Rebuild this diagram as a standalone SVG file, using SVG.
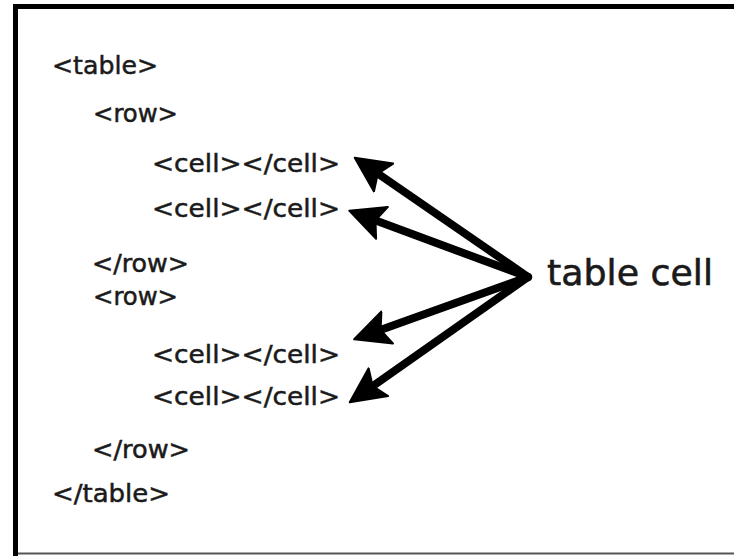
<svg xmlns="http://www.w3.org/2000/svg" width="734" height="556" viewBox="0 0 734 556">
  <style>
    .code { font-family: "DejaVu Sans", "Liberation Sans", sans-serif; font-size: 24px; fill: #1a1a1a; stroke: #1a1a1a; stroke-width: 0.5; }
    .label { font-family: "DejaVu Sans", "Liberation Sans", sans-serif; font-size: 35px; fill: #1a1a1a; stroke: #1a1a1a; stroke-width: 0.6; }
    .conn { stroke: #000; stroke-width: 8; fill: none; stroke-linecap: round; }
  </style>
  <defs>
    <marker id="head" markerUnits="userSpaceOnUse" markerWidth="38" markerHeight="38" viewBox="0 0 38 38" refX="12" refY="19" orient="auto">
      <path d="M1,2 L36,19 L1,36 L8,19 z" fill="#000" stroke="#000" stroke-width="2" stroke-linejoin="round"/>
    </marker>
  </defs>
  <rect x="0" y="0" width="734" height="556" fill="#fff"/>
  <g id="frame">
    <path d="M734,6.5 L15.5,6.5 L15.5,556" fill="none" stroke="#000" stroke-width="5"/>
    <line x1="18" y1="553.5" x2="734" y2="553.5" stroke="#555" stroke-width="2"/>
  </g>
  <g id="code">
    <text class="code" x="52" y="74" textLength="106" lengthAdjust="spacingAndGlyphs">&lt;table&gt;</text>
    <text class="code" x="93" y="122" textLength="85" lengthAdjust="spacingAndGlyphs">&lt;row&gt;</text>
    <g id="cell1"><text class="code" x="152" y="172" textLength="188" lengthAdjust="spacingAndGlyphs">&lt;cell&gt;&lt;/cell&gt;</text></g>
    <g id="cell2"><text class="code" x="152" y="217" textLength="188" lengthAdjust="spacingAndGlyphs">&lt;cell&gt;&lt;/cell&gt;</text></g>
    <text class="code" x="92" y="272" textLength="97" lengthAdjust="spacingAndGlyphs">&lt;/row&gt;</text>
    <text class="code" x="93" y="305" textLength="85" lengthAdjust="spacingAndGlyphs">&lt;row&gt;</text>
    <g id="cell3"><text class="code" x="152" y="363" textLength="188" lengthAdjust="spacingAndGlyphs">&lt;cell&gt;&lt;/cell&gt;</text></g>
    <g id="cell4"><text class="code" x="152" y="405" textLength="188" lengthAdjust="spacingAndGlyphs">&lt;cell&gt;&lt;/cell&gt;</text></g>
    <text class="code" x="92" y="458" textLength="98" lengthAdjust="spacingAndGlyphs">&lt;/row&gt;</text>
    <text class="code" x="52" y="502" textLength="118" lengthAdjust="spacingAndGlyphs">&lt;/table&gt;</text>
  </g>
  <g id="label">
    <text class="label" x="547" y="285" textLength="166" lengthAdjust="spacingAndGlyphs">table cell</text>
  </g>
  <g id="connectors">
    <path class="conn" d="M528,277 L374.5,171.3" marker-end="url(#head)"/>
    <path class="conn" d="M528,277 L371.7,219" marker-end="url(#head)"/>
    <path class="conn" d="M528,277 L376.8,331.2" marker-end="url(#head)"/>
    <path class="conn" d="M528,277 L369.4,388.5" marker-end="url(#head)"/>
  </g>
</svg>
